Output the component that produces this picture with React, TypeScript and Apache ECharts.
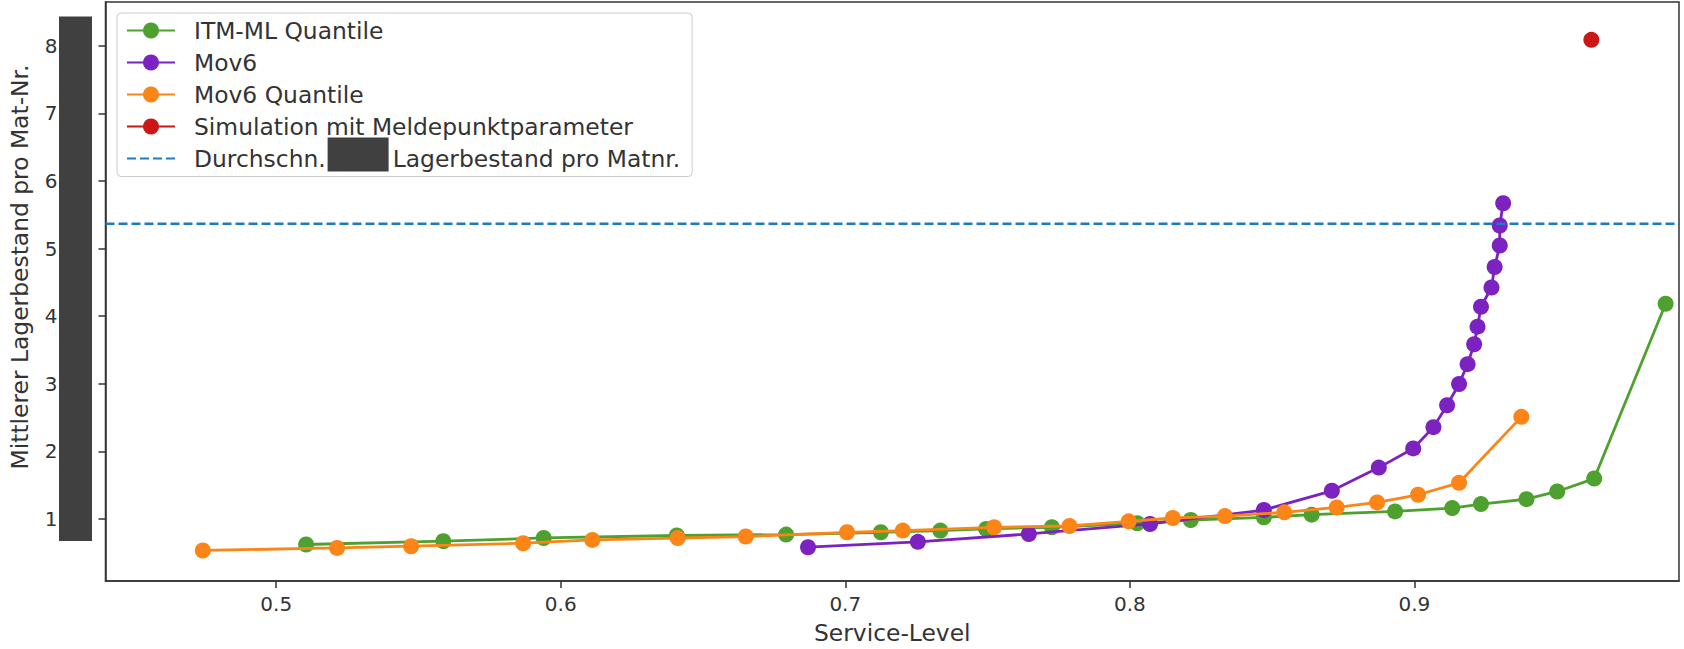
import React, { useEffect, useRef } from "react";
import * as echarts from "echarts";

// ---- data (x = Service-Level, y = Mittlerer Lagerbestand) ----
const ITM_ML_QUANTILE: [number, number][] = [
  [0.5105, 0.62], [0.5587, 0.669], [0.594, 0.717], [0.6408, 0.753], [0.6792, 0.767],
  [0.7125, 0.801], [0.7334, 0.826], [0.7495, 0.85], [0.7726, 0.875], [0.8026, 0.934],
  [0.8214, 0.982], [0.8471, 1.022], [0.8639, 1.062], [0.8932, 1.11], [0.9133, 1.159],
  [0.9234, 1.218], [0.9394, 1.291], [0.9502, 1.405], [0.9632, 1.596], [0.9883, 4.183],
];
const MOV6: [number, number][] = [
  [0.6869, 0.58], [0.7255, 0.659], [0.7645, 0.776], [0.8071, 0.924], [0.8471, 1.13],
  [0.871, 1.415], [0.8875, 1.758], [0.8996, 2.042], [0.9067, 2.357], [0.9115, 2.681],
  [0.9157, 2.995], [0.9187, 3.289], [0.921, 3.584], [0.9222, 3.844], [0.9234, 4.138],
  [0.9271, 4.423], [0.9282, 4.727], [0.93, 5.045], [0.93, 5.34], [0.9312, 5.67],
];
const MOV6_QUANTILE: [number, number][] = [
  [0.4742, 0.532], [0.5214, 0.57], [0.5474, 0.595], [0.5868, 0.639], [0.6111, 0.688],
  [0.6411, 0.715], [0.665, 0.738], [0.7006, 0.801], [0.7202, 0.826], [0.7523, 0.875],
  [0.7788, 0.894], [0.7996, 0.963], [0.8151, 1.012], [0.8334, 1.041], [0.8543, 1.096],
  [0.8727, 1.169], [0.8869, 1.243], [0.9013, 1.356], [0.9157, 1.533], [0.9376, 2.509],
];
const SIMULATION: [number, number][] = [[0.9622, 8.088]];
const AVG_STOCK = 5.368;

const X_TICKS = [0.5, 0.6, 0.7, 0.8, 0.9];
const Y_TICKS = [1, 2, 3, 4, 5, 6, 7, 8];
const X_MIN = 0.44;
const X_MAX = 0.993;
const Y_MIN = 0.08;
const Y_MAX = 8.648;

const NAMES = [
  "ITM-ML Quantile",
  "Mov6",
  "Mov6 Quantile",
  "Simulation mit Meldepunktparameter",
  "Durchschn. Lagerbestand pro Matnr.",
];

const GREEN = "#4ea12f";
const PURPLE = "#7b22c0";
const ORANGE = "#fb8517";
const RED = "#cc1717";
const BLUE = "#1a7bc6";
const AXIS = "#333333";
const TEXT = "#333333";
const FONT = "DejaVu Sans";

export default function App() {
  const ref = useRef<HTMLDivElement>(null);

  useEffect(() => {
    document.body.style.margin = "0";
    const chart = echarts.init(ref.current!, null, { renderer: "svg" });

    const lineSeries = (name: string, data: [number, number][], color: string, z: number) => ({
      name,
      type: "line",
      data,
      symbol: "circle",
      symbolSize: 16,
      showSymbol: true,
      z,
      itemStyle: { color },
      lineStyle: { color, width: 2.8 },
      emphasis: { disabled: true },
    });

    chart.setOption({
      animation: false,
      backgroundColor: "#ffffff",
      textStyle: { fontFamily: FONT },
      grid: {
        left: 105,
        right: 5,
        top: 2,
        bottom: 65,
        show: true,
        borderColor: AXIS,
        borderWidth: 1.5,
      },
      xAxis: {
        type: "value",
        min: X_MIN,
        max: X_MAX,
        name: "Service-Level",
        nameLocation: "middle",
        nameGap: 40,
        nameTextStyle: { fontSize: 23.4, color: TEXT, lineHeight: 23, fontFamily: FONT },
        axisLine: { show: true, lineStyle: { color: AXIS, width: 1.5 } },
        axisTick: { show: true, customValues: X_TICKS, length: 7, lineStyle: { color: AXIS, width: 1.5 } },
        axisLabel: {
          customValues: X_TICKS,
          formatter: (v: number) => v.toFixed(1),
          fontSize: 20,
          color: TEXT,
          margin: 13,
          fontFamily: FONT,
        },
        splitLine: { show: false },
      },
      yAxis: {
        type: "value",
        min: Y_MIN,
        max: Y_MAX,
        name: "Mittlerer Lagerbestand pro Mat-Nr.",
        nameLocation: "middle",
        nameGap: 74.5,
        nameTextStyle: { fontSize: 23.4, color: TEXT, lineHeight: 23, padding: [0, 0, 0, 49], fontFamily: FONT },
        axisLine: { show: true, lineStyle: { color: AXIS, width: 1.5 } },
        axisTick: { show: true, customValues: Y_TICKS, length: 7, lineStyle: { color: AXIS, width: 1.5 } },
        axisLabel: {
          customValues: Y_TICKS,
          formatter: (v: number) => String(Math.round(v)),
          fontSize: 20,
          color: TEXT,
          margin: 48,
          fontFamily: FONT,
        },
        splitLine: { show: false },
      },
      legend: {
        orient: "vertical",
        left: 117,
        top: 13,
        padding: [5.5, 12, 6, 9],
        itemWidth: 48,
        itemHeight: 20,
        itemGap: 8,
        backgroundColor: "rgba(255,255,255,0.8)",
        borderColor: "#cccccc",
        borderWidth: 1,
        borderRadius: 4,
        selectedMode: false,
        textStyle: {
          fontSize: 23.4,
          color: TEXT,
          lineHeight: 24,
          fontFamily: FONT,
          padding: [0, 0, 0, 14],
          rich: { gap: { width: 67 } },
        },
        formatter: (name: string) =>
          name === NAMES[4] ? "Durchschn.{gap| }Lagerbestand pro Matnr." : name,
        data: [
          { name: NAMES[0] },
          { name: NAMES[1] },
          { name: NAMES[2] },
          { name: NAMES[3] },
          { name: NAMES[4], itemStyle: { color: "rgba(0,0,0,0)", opacity: 0 } },
        ],
      },
      series: [
        lineSeries(NAMES[0], ITM_ML_QUANTILE, GREEN, 2),
        lineSeries(NAMES[1], MOV6, PURPLE, 3),
        lineSeries(NAMES[2], MOV6_QUANTILE, ORANGE, 4),
        lineSeries(NAMES[3], SIMULATION, RED, 5),
        {
          name: NAMES[4],
          type: "line",
          data: [
            [X_MIN, AVG_STOCK],
            [X_MAX, AVG_STOCK],
          ],
          symbol: "none",
          z: 6,
          lineStyle: { color: BLUE, width: 2.5, type: [9, 4] },
          itemStyle: { color: BLUE },
          emphasis: { disabled: true },
        },
      ],
      graphic: [
        // redaction boxes present in the reference image
        { type: "rect", z: 100, shape: { x: 59, y: 16.5, width: 33, height: 524.5 }, style: { fill: "#404040" } },
        { type: "rect", z: 100, shape: { x: 327.6, y: 137.5, width: 61, height: 34 }, style: { fill: "#404040" } },
      ],
    });

    return () => chart.dispose();
  }, []);

  return <div ref={ref} style={{ width: 1684, height: 649 }} />;
}
